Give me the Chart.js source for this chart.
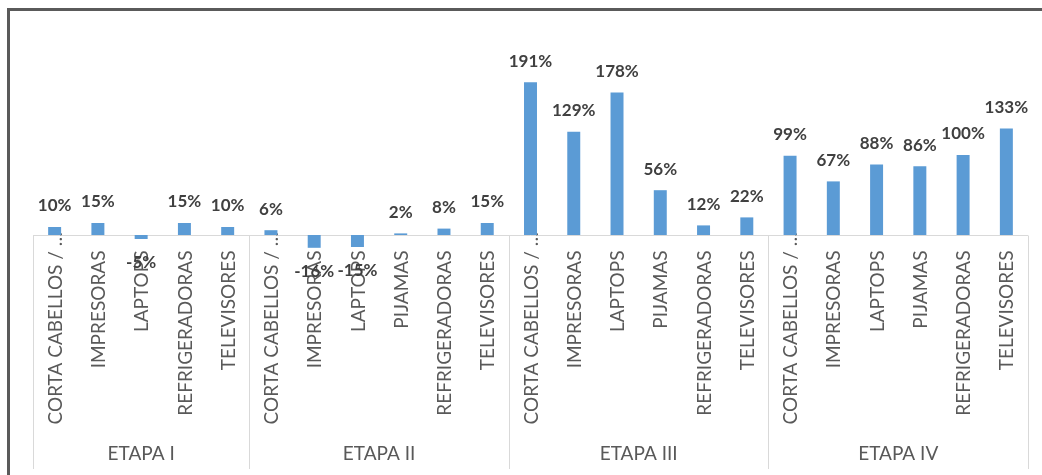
<!DOCTYPE html>
<html>
<head>
<meta charset="utf-8">
<script src="https://cdn.jsdelivr.net/npm/chart.js@4"></script>
<style>
  html, body { margin: 0; padding: 0; background: #fff; overflow: hidden; }
  .frame {
    position: absolute; left: 7px; top: 8px; width: 1200px; height: 600px;
    border-left: 3px solid #5a5a5a; border-top: 3px solid #5a5a5a;
  }
  .wrap { position: absolute; left: 0; top: 0; width: 1042px; height: 475px; }
</style>
</head>
<body>
<div class="frame"></div>
<div class="wrap"><canvas class="js-chart"></canvas></div>
<script>
const ctx = document.querySelector(".js-chart").getContext("2d");

const products = [
  "CORTA CABELLOS / …", "IMPRESORAS", "LAPTOPS", "REFRIGERADORAS", "TELEVISORES",
  "CORTA CABELLOS / …", "IMPRESORAS", "LAPTOPS", "PIJAMAS", "REFRIGERADORAS", "TELEVISORES",
  "CORTA CABELLOS / …", "IMPRESORAS", "LAPTOPS", "PIJAMAS", "REFRIGERADORAS", "TELEVISORES",
  "CORTA CABELLOS / …", "IMPRESORAS", "LAPTOPS", "PIJAMAS", "REFRIGERADORAS", "TELEVISORES",
];
const stages = ["ETAPA I", "ETAPA II", "ETAPA III", "ETAPA IV"];
const stageSizes = [5, 6, 6, 6];
const growth = [
  10, 15, -5, 15, 10,
  6, -16, -15, 2, 8, 15,
  191, 129, 178, 56, 12, 22,
  99, 67, 88, 86, 100, 133,
];

const GREY_TEXT = "#595959";
const BOX_LINE = "#d9d9d9";

// category box under the zero line: rotated product names, stage dividers, stage names
const stageBoxes = {
  id: "stageBoxes",
  beforeDatasetsDraw(chart) {
    const { ctx, chartArea, scales: { x, y } } = chart;
    const zero = Math.round(y.getPixelForValue(0)) + 0.5;
    const half = (x.getPixelForValue(1) - x.getPixelForValue(0)) / 2;
    const bottom = chart.height - 6;
    ctx.save();
    ctx.strokeStyle = BOX_LINE;
    ctx.lineWidth = 1;
    ctx.beginPath();
    ctx.moveTo(chartArea.left, zero);
    ctx.lineTo(chartArea.right, zero);
    let start = 0;
    const edges = [chartArea.left];
    stageSizes.forEach((n) => {
      start += n;
      edges.push(x.getPixelForValue(start - 1) + half);
    });
    edges.forEach((e) => {
      const px = Math.round(e) + 0.5;
      ctx.moveTo(px, zero);
      ctx.lineTo(px, bottom);
    });
    ctx.stroke();

    ctx.fillStyle = GREY_TEXT;
    ctx.font = "19px Lato";
    ctx.textBaseline = "middle";

    // product names read bottom-to-top; long ones are pulled up to fit the band
    ctx.textAlign = "right";
    const bandTop = zero + 15;
    const bandBottom = zero + 189;
    products.forEach((name, i) => {
      const w = ctx.measureText(name).width;
      const top = Math.min(bandTop, bandBottom - w);
      ctx.save();
      ctx.translate(x.getPixelForValue(i) + 1, top);
      ctx.rotate(-Math.PI / 2);
      ctx.fillText(name, 0, 0);
      ctx.restore();
    });

    ctx.textAlign = "center";
    stages.forEach((name, i) => {
      ctx.fillText(name, (edges[i] + edges[i + 1]) / 2, bottom - 15);
    });
    ctx.restore();
  },
};

// value labels above positive bars and below negative ones
const valueLabels = {
  id: "valueLabels",
  afterDatasetsDraw(chart) {
    const { ctx } = chart;
    const meta = chart.getDatasetMeta(0);
    ctx.save();
    ctx.fillStyle = "#404040";
    ctx.font = "bold 17px Lato";
    ctx.textAlign = "center";
    ctx.textBaseline = "middle";
    meta.data.forEach((bar, i) => {
      const v = growth[i];
      const ty = v >= 0 ? bar.y - 21 : bar.y + 24;
      ctx.fillText(v + "%", bar.x, ty);
    });
    ctx.restore();
  },
};

new Chart(ctx, {
  type: "bar",
  data: {
    labels: products,
    datasets: [
      {
        data: growth,
        backgroundColor: "#5b9bd5",
        categoryPercentage: 1,
        barPercentage: 0.3,
      },
    ],
  },
  options: {
    responsive: true,
    maintainAspectRatio: false,
    animation: false,
    layout: { padding: { left: 33, right: 14, top: 35, bottom: 29 } },
    plugins: { legend: { display: false }, tooltip: { enabled: false } },
    scales: {
      x: {
        grid: { display: false, drawTicks: false },
        border: { display: false },
        ticks: { display: false },
        afterFit(scale) {
          scale.height = 195;
        },
      },
      y: {
        display: false,
        min: -20,
        max: 250,
      },
    },
  },
  plugins: [stageBoxes, valueLabels],
});
</script>
</body>
</html>
